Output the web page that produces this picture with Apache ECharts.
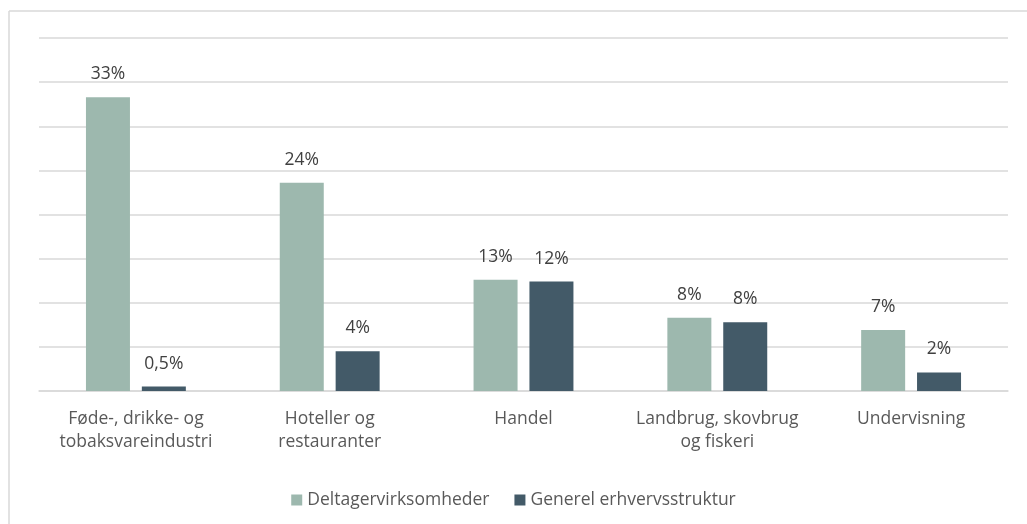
<!DOCTYPE html>
<html>
<head>
<meta charset="utf-8">
<script src="https://cdn.jsdelivr.net/npm/echarts@6/dist/echarts.min.js"></script>
<style>
  html, body { margin: 0; padding: 0; background: #fff; }
  #chart { width: 1027px; height: 524px; }
</style>
</head>
<body>
<div id="chart"></div>
<script>
// kategorier og værdier (andele)
var categories = ['Føde-, drikke- og\ntobaksvareindustri', 'Hoteller og\nrestauranter', 'Handel', 'Landbrug, skovbrug\nog fiskeri', 'Undervisning']
var seriesNames = ['Deltagervirksomheder', 'Generel erhvervsstruktur']
var deltager = [0.333, 0.236, 0.126, 0.083, 0.069]
var generel = [0.005, 0.045, 0.124, 0.078, 0.021]
var deltagerLabels = ['33%', '24%', '13%', '8%', '7%']
var generelLabels = ['0,5%', '4%', '12%', '8%', '2%']

var font = '"Open Sans", "DejaVu Sans", sans-serif'
var myChart = echarts.init(document.getElementById('chart'))

var option = {
  animation: false,
  textStyle: { fontFamily: font },
  grid: { left: 39, right: 19, top: 38, bottom: 133 },
  legend: {
    data: seriesNames,
    left: 'center',
    top: 486,
    itemWidth: 11,
    itemHeight: 11,
    itemGap: 25,
    icon: 'rect',
    textStyle: { fontSize: 17.5, color: '#595959', fontFamily: font }
  },
  xAxis: {
    type: 'category',
    data: categories,
    axisTick: { show: false },
    axisLine: { lineStyle: { color: '#d9d9d9', width: 1.5 } },
    axisLabel: {
      color: '#595959',
      fontSize: 17.5,
      lineHeight: 22.5,
      margin: 17,
      interval: 0,
      fontFamily: font
    }
  },
  yAxis: {
    type: 'value',
    min: 0,
    max: 0.4,
    interval: 0.05,
    axisLabel: { show: false },
    axisLine: { show: false },
    axisTick: { show: false },
    splitLine: { lineStyle: { color: '#d9d9d9', width: 1.5 } }
  },
  series: [
    {
      name: seriesNames[0],
      type: 'bar',
      data: deltager,
      barWidth: 44,
      barGap: '27%',
      itemStyle: { color: '#9db8ae' },
      label: {
        show: true,
        position: 'top',
        distance: 14,
        fontSize: 17.5,
        color: '#404040',
        fontFamily: font,
        formatter: function (p) { return deltagerLabels[p.dataIndex] }
      }
    },
    {
      name: seriesNames[1],
      type: 'bar',
      data: generel,
      barWidth: 44,
      itemStyle: { color: '#435a68' },
      label: {
        show: true,
        position: 'top',
        distance: 14,
        fontSize: 17.5,
        color: '#404040',
        fontFamily: font,
        formatter: function (p) { return generelLabels[p.dataIndex] }
      }
    }
  ],
  graphic: [
    { type: 'line', shape: { x1: 9, y1: 11, x2: 1027, y2: 11 }, style: { stroke: '#d9d9d9', lineWidth: 1.5 } },
    { type: 'line', shape: { x1: 9, y1: 11, x2: 9, y2: 524 }, style: { stroke: '#d9d9d9', lineWidth: 1.5 } }
  ]
}
myChart.setOption(option)
</script>
</body>
</html>
